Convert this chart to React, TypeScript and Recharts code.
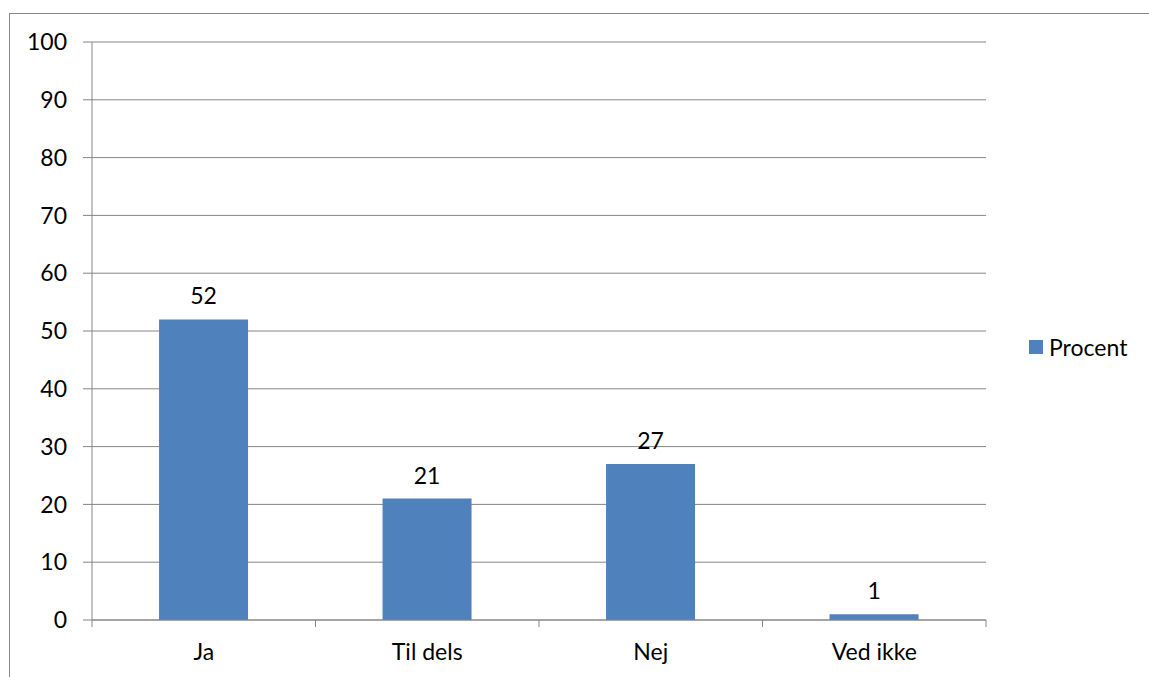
import React from "react";
import {
  BarChart,
  Bar,
  XAxis,
  YAxis,
  CartesianGrid,
  LabelList,
} from "recharts";

const categories = ["Ja", "Til dels", "Nej", "Ved ikke"];
const procent = [52, 21, 27, 1];
const yTicks = [0, 10, 20, 30, 40, 50, 60, 70, 80, 90, 100];
const seriesName = "Procent";

const data = categories.map((name, i) => ({ name, Procent: procent[i] }));

const W = 1149;
const H = 677;
const PLOT_LEFT = 92;
const PLOT_RIGHT = 986;
const PLOT_TOP = 42;
const PLOT_BOTTOM = 620;
const BAND = (PLOT_RIGHT - PLOT_LEFT) / categories.length;

const FONT = "Lato, 'Open Sans', sans-serif";
const FONT_SIZE = 23;
const GREY = "#868686";
const BLUE = "#4F81BD";

// category label plus the small boundary tick marks below the axis
const CategoryTick = (props: any) => {
  const { x, payload, index } = props;
  const left = x - BAND / 2;
  const right = x + BAND / 2;
  return (
    <g>
      <line x1={left} y1={PLOT_BOTTOM} x2={left} y2={PLOT_BOTTOM + 7} stroke={GREY} />
      {index === categories.length - 1 && (
        <line x1={right} y1={PLOT_BOTTOM} x2={right} y2={PLOT_BOTTOM + 7} stroke={GREY} />
      )}
      <text
        x={x}
        y={PLOT_BOTTOM + 32}
        dy="0.35em"
        textAnchor="middle"
        fill="#000"
        fontSize={FONT_SIZE}
        fontFamily={FONT}
      >
        {payload.value}
      </text>
    </g>
  );
};

export default function App() {
  return (
    <div style={{ position: "absolute", left: 0, top: 0, width: W, height: H, background: "#fff", overflow: "hidden" }}>
      <div
        style={{
          position: "absolute",
          left: 9,
          top: 13,
          width: W + 20,
          height: H + 20,
          border: "1px solid #888",
        }}
      />
      <BarChart
        width={W}
        height={H}
        data={data}
        margin={{ top: PLOT_TOP, right: W - PLOT_RIGHT, bottom: 0, left: 0 }}
        barCategoryGap="30%"
        style={{ position: "absolute", left: 0, top: 0 }}
      >
        <CartesianGrid vertical={false} stroke={GREY} strokeWidth={1} />
        <XAxis
          dataKey="name"
          stroke={GREY}
          tickLine={false}
          tick={<CategoryTick />}
          interval={0}
          height={H - PLOT_BOTTOM}
        />
        <YAxis
          width={PLOT_LEFT}
          domain={[0, 100]}
          ticks={yTicks}
          interval={0}
          stroke={GREY}
          tickSize={9}
          tickMargin={16}
          tick={{ fill: "#000", fontSize: FONT_SIZE, fontFamily: FONT }}
        />
        <Bar dataKey="Procent" fill={BLUE} isAnimationActive={false}>
          <LabelList
            dataKey="Procent"
            position="top"
            offset={15}
            fill="#000"
            fontSize={FONT_SIZE}
            fontFamily={FONT}
          />
        </Bar>
      </BarChart>
      <div
        style={{
          position: "absolute",
          left: 1029,
          top: 333,
          display: "flex",
          alignItems: "center",
          fontFamily: FONT,
          fontSize: FONT_SIZE,
          color: "#000",
        }}
      >
        <span style={{ width: 14, height: 14, background: BLUE, display: "inline-block", marginRight: 6 }} />
        <span>{seriesName}</span>
      </div>
    </div>
  );
}
